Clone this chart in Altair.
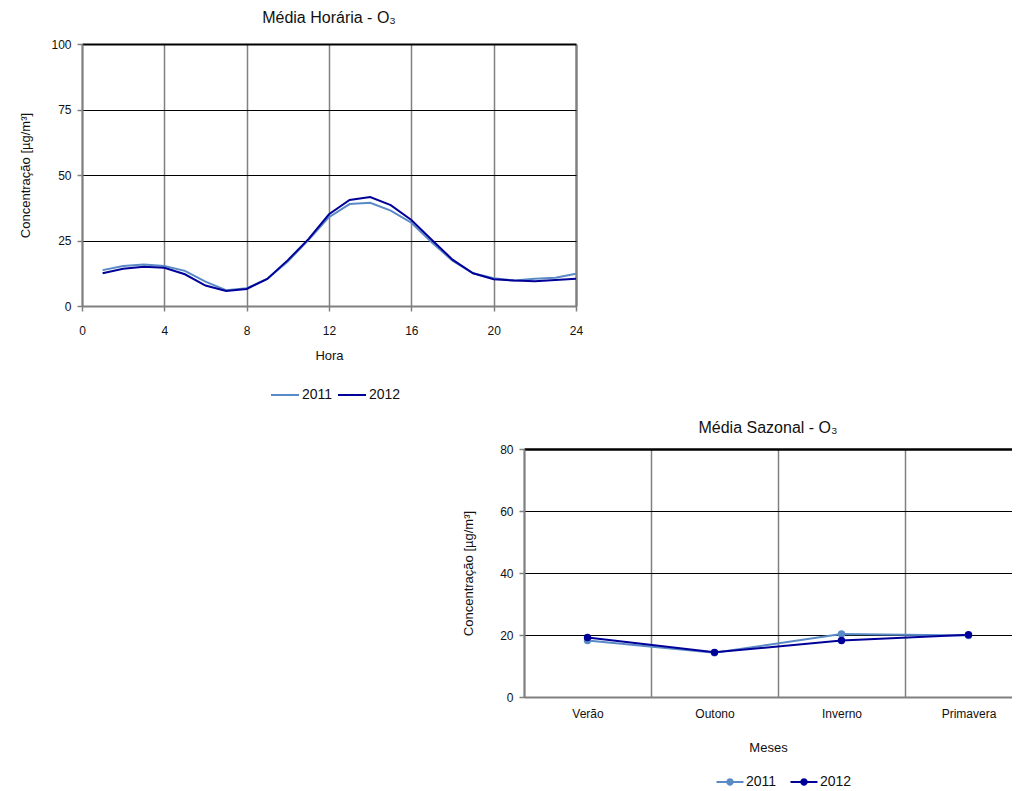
import json
import altair as alt
import pandas as pd

# ---------------- data ----------------
hours = list(range(1, 25))
hourly_2011 = [13.7, 15.3, 15.8, 15.3, 13.4, 9.3, 6.0, 6.8, 10.3, 17.0, 25.2, 33.9,
               38.9, 39.4, 36.4, 31.8, 24.2, 17.3, 12.5, 10.6, 9.7, 10.4, 10.8, 12.3]
hourly_2012 = [12.5, 14.2, 15.0, 14.6, 12.1, 7.8, 5.7, 6.5, 10.3, 17.5, 25.5, 35.0,
               40.5, 41.6, 38.5, 32.8, 25.2, 17.7, 12.5, 10.2, 9.7, 9.4, 9.9, 10.4]
seasons = ["Verão", "Outono", "Inverno", "Primavera"]
seasonal_2011 = [18.2, 14.3, 20.3, 19.8]
seasonal_2012 = [19.2, 14.4, 18.2, 20.1]
years = ["2011", "2012"]
year_colors = ["#5A8AC6", "#000099"]
hour_ticks = [0, 4, 8, 12, 16, 20, 24]
hourly_y_ticks = [0, 25, 50, 75, 100]
seasonal_y_ticks = [0, 20, 40, 60, 80]

FONT = "Liberation Sans, Arial, sans-serif"
TXT = "#111111"
GRAY = "#808080"

axis_common = dict(
    domainColor=GRAY, domainWidth=2, tickColor=GRAY, tickWidth=1.5, tickSize=5,
    labelFont=FONT, labelFontSize=12, labelColor=TXT,
    titleFont=FONT, titleFontSize=13, titleFontWeight="normal", titleColor=TXT,
)
legend_common = dict(title=None, orient="none", direction="horizontal", padding=0,
                     labelFont=FONT, labelFontSize=14, labelColor=TXT)

# ---------------- chart 1: hourly ----------------
df_h = pd.DataFrame({
    "Hora": hours * 2,
    "Conc": hourly_2011 + hourly_2012,
    "Ano": [years[0]] * len(hours) + [years[1]] * len(hours),
})

x1 = alt.X("Hora:Q", scale=alt.Scale(domain=[0, 24], nice=False, zero=False),
           axis=alt.Axis(values=hour_ticks, title="Hora", grid=True, gridColor=GRAY,
                         gridWidth={"condition": {"test": "datum.value === 24", "value": 2.5}, "value": 1.5},
                         labelFlush=False, labelPadding=14, titlePadding=13, **axis_common))
y1 = alt.Y("Conc:Q", scale=alt.Scale(domain=[0, 100], nice=False),
           axis=alt.Axis(values=hourly_y_ticks, title="Concentração [µg/m³]", grid=True, gridColor="black",
                         gridWidth={"condition": {"test": "datum.value === 100", "value": 2}, "value": 1},
                         labelPadding=6, titlePadding=18, **axis_common))
color1 = alt.Color("Ano:N", scale=alt.Scale(domain=years, range=year_colors),
                   legend=alt.Legend(symbolType="stroke", symbolSize=784, symbolStrokeWidth=2,
                                     columnPadding=1, labelOffset=2,
                                     legendX=188, legendY=336, **legend_common))

c1 = alt.Chart(df_h).mark_line(strokeWidth=2).encode(x=x1, y=y1, color=color1).properties(
    width=494, height=262,
    title=alt.TitleParams("Média Horária - O₃", font=FONT, fontSize=16, fontWeight="normal",
                          color=TXT, offset=12))

# ---------------- chart 2: seasonal ----------------
df_s = pd.DataFrame({
    "pos": [i + 0.5 for i in range(len(seasons))] * 2,
    "Estação": seasons * 2,
    "Conc": seasonal_2011 + seasonal_2012,
    "Ano": [years[0]] * len(seasons) + [years[1]] * len(seasons),
})

W2 = 488
BAND = 127
label_expr = json.dumps(seasons, ensure_ascii=False) + "[datum.value]"
x2 = alt.X("pos:Q", scale=alt.Scale(domain=[0, W2 / BAND], nice=False, zero=False),
           axis=alt.Axis(values=[0, 1, 2, 3], labelExpr=label_expr, labelOffset=BAND / 2,
                         labelFlush=False, labelOverlap=False, ticks=False, grid=True, gridColor=GRAY,
                         gridWidth=1.5, title="Meses", labelPadding=11, titlePadding=22, **axis_common))
y2 = alt.Y("Conc:Q", scale=alt.Scale(domain=[0, 80], nice=False),
           axis=alt.Axis(values=seasonal_y_ticks, title="Concentração [µg/m³]", grid=True, gridColor="black",
                         gridWidth={"condition": {"test": "datum.value === 80", "value": 2.5}, "value": 1},
                         labelPadding=6, titlePadding=24, **axis_common))

# line + marker legend symbol (path drawn beyond the unit box so the entry stays short)
sym_path = ("M-2,-0.16H2V0.16H-2Z "
            "M0,-0.55A0.55,0.55 0 1,1 0,0.55A0.55,0.55 0 1,1 0,-0.55Z")

line2 = alt.Chart(df_s).mark_line(strokeWidth=2).encode(
    x=x2, y=y2, detail="Ano:N",
    stroke=alt.condition(f"datum.Ano === '{years[0]}'", alt.value(year_colors[0]), alt.value(year_colors[1])))
pts2 = alt.Chart(df_s).mark_point(filled=True, size=55, opacity=1).encode(
    x=x2, y=y2,
    color=alt.Color("Ano:N", scale=alt.Scale(domain=years, range=year_colors),
                    legend=alt.Legend(symbolType=sym_path, symbolSize=182, symbolStrokeWidth=0,
                                      symbolOpacity=1, labelOffset=9, columnPadding=13,
                                      legendX=199, legendY=326, **legend_common)))

c2 = alt.layer(line2, pts2).properties(
    width=W2, height=248,
    title=alt.TitleParams("Média Sazonal - O₃", font=FONT, fontSize=16, fontWeight="normal",
                          color=TXT, offset=7))

spacer = alt.Chart(pd.DataFrame({"v": [0]})).mark_point(opacity=0).encode(
    x=alt.X("v:Q", axis=None), y=alt.Y("v:Q", axis=None)).properties(width=380, height=10)

row2 = alt.hconcat(spacer, c2, spacing=0).resolve_scale(color="independent").resolve_legend(color="independent")

chart = alt.vconcat(c1, row2, spacing=18).resolve_scale(
    color="independent"
).resolve_legend(
    color="independent"
).properties(
    padding={"left": 11, "top": 2, "right": 0, "bottom": 0},
    background="white",
).configure_view(stroke=None)

chart.save("out.html", embed_options={"renderer": "svg", "actions": False})
